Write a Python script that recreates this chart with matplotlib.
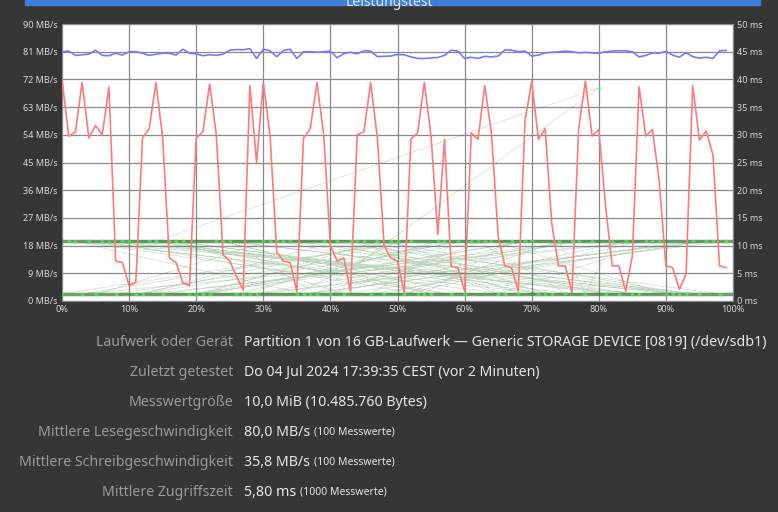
import matplotlib
matplotlib.use("Agg")
import matplotlib.pyplot as plt
from matplotlib.patches import Rectangle

plt.rcParams['font.family'] = ['Noto Sans', 'DejaVu Sans']

pct = list(range(100))
read_mbs = [81.0,81.2,79.8,80.0,80.2,81.5,79.8,79.7,80.5,79.9,81.0,81.0,80.5,79.8,80.2,80.5,80.5,79.9,81.8,80.5,80.3,79.7,80.0,79.8,80.2,81.5,81.7,81.6,82.0,78.8,81.8,81.3,79.4,81.4,81.8,78.8,81.0,81.0,80.8,81.0,81.2,79.0,80.4,80.8,80.3,81.3,81.2,79.4,79.5,79.6,
            80.1,80.0,79.3,78.8,78.8,79.0,79.1,79.8,81.5,81.2,78.8,79.2,78.8,79.5,79.3,79.6,81.6,81.5,81.0,81.2,79.6,79.9,80.6,80.8,80.9,81.2,81.0,80.6,80.8,80.6,80.5,81.0,81.2,81.3,81.3,81.0,79.3,79.8,80.6,80.5,81.1,79.9,79.2,80.7,79.4,78.9,79.2,78.8,81.3,81.4]
write_mbs = [72,53.5,55,71,53,57,54,69.5,13,12.5,5,6,53,56,71,53,14,12.5,6,5,
             53,55,70.5,54,15,13,8,3.5,70,45,71,54,16,13,12.5,3,53,56,71,54,
             18,13,14,3,54,55,71,53,18,14,13,2.7,52.7,54.6,71,53.6,21.6,52.5,11.4,10.8,
             3.2,54.6,52.5,70,54.6,21,11.4,10.8,3.2,58.4,71.4,52.5,56,25,11.4,11.4,2.7,56,71.4,53.6,
             55.7,31,11.4,11.4,3.2,14.6,69.6,53.6,55.7,39,11.4,10.8,3.8,8.7,70,52.3,55.2,47.6,11.4,10.8]
access_pct = [0,52,3,88,12,41,7,95,23,60,15,77,31,5,68,45,9,83,27,56,
              18,99,36,2,72,49,11,64,90,25,38,80,14,58,1,93,47,21,70,33,
              85,6,53,29,97,42,17,75,62,10,86,35,50,20,79,4,66,44,92,26,
              57,13,73,39,98,8,61,30,84,48,19,69,37,94,24,55,16,81,43,65,
              89,32,71,22,59,46,96,28,76,40,63,34,91,54,67,87,51,74,78,82]
access_ms = [1.3,10.8,1.3,10.9,1.2,10.8,10.7,1.3,10.9,1.3,1.3,10.8,10.8,1.2,1.4,10.9,10.8,1.3,1.3,10.8,
             10.9,10.8,1.3,10.7,1.3,10.8,1.2,10.9,1.3,10.8,1.3,38.5,10.8,1.2,10.9,1.3,10.8,1.3,10.9,10.8,
             1.3,10.8,1.3,1.2,10.9,1.3,10.8,1.4,10.8,10.9,1.3,1.3,10.8,1.3,10.9,10.8,1.3,10.8,1.2,1.3,
             10.8,10.9,1.3,10.8,1.3,1.3,10.9,10.8,10.8,1.3,1.2,10.8,1.3,10.9,10.8,1.3,10.8,1.3,10.9,1.3,
             10.8,10.9,1.3,1.3,10.8,1.3,10.9,1.2,10.8,1.3,10.8,10.9,1.3,1.3,10.8,10.9,1.3,10.8,1.3,10.8]

mb_ticks = list(range(0, 91, 9))
ms_ticks = list(range(0, 51, 5))
x_ticks = list(range(0, 101, 10))

labels = ["Laufwerk oder Gerät", "Zuletzt getestet", "Messwertgröße",
          "Mittlere Lesegeschwindigkeit", "Mittlere Schreibgeschwindigkeit", "Mittlere Zugriffszeit"]
values = ["Partition 1 von 16 GB-Laufwerk — Generic STORAGE DEVICE [0819] (/dev/sdb1)",
          "Do 04 Jul 2024 17:39:35 CEST (vor 2 Minuten)",
          "10,0 MiB (10.485.760 Bytes)", "80,0 MB/s", "35,8 MB/s", "5,80 ms"]
extras = ["", "", "", "(100 Messwerte)", "(100 Messwerte)", "(1000 Messwerte)"]

BG = "#363636"
fig = plt.figure(figsize=(7.78, 5.12), dpi=100, facecolor=BG)
fig.patches.append(Rectangle((25/778, 1-5/512), 735/778, 5/512, transform=fig.transFigure,
                             color="#3f7ed8", zorder=0))
fig.text(0.5, 1 - 2/512, "Leistungstest", ha="center", va="center", color="#e8e8e8", fontsize=10)

ax = fig.add_axes([62/778, 1-301/512, 671/778, 277/512])
ax.set_facecolor("white")
ax.set_xlim(0, 100)
ax.set_ylim(0, 90)
ax.set_xticks(x_ticks)
ax.set_xticklabels([f"{t}%" for t in x_ticks])
ax.set_yticks(mb_ticks)
ax.set_yticklabels([f"{t} MB/s" for t in mb_ticks])
ax.grid(True, color="#8a8a8a", linewidth=0.9)
ax.set_axisbelow(True)
for s in ax.spines.values():
    s.set_color("#8a8a8a")
ax.tick_params(colors="#d8d8d8", labelsize=6.5, length=0, pad=3)

ax2 = ax.twinx()
ax2.set_ylim(0, 50)
ax2.set_yticks(ms_ticks)
ax2.set_yticklabels([f"{t} ms" for t in ms_ticks])
ax2.tick_params(colors="#d8d8d8", labelsize=6.5, length=0, pad=3)
for s in ax2.spines.values():
    s.set_visible(False)

ax2.plot(access_pct, access_ms, color="#2e7d2e", linewidth=0.4, alpha=0.3, zorder=1)
for lvl in (10.8, 1.3):
    ax2.axhline(lvl, color="#2e7d2e", linewidth=2.5, alpha=0.7, zorder=1)
ax2.scatter(access_pct, access_ms, s=8, color="#66ee66", alpha=0.6, linewidths=0, zorder=2)
ax2.plot(pct, [w / 1.8 for w in write_mbs], color="#ff7a7a", linewidth=1.2, zorder=3)
ax2.plot(pct, [r / 1.8 for r in read_mbs], color="#7878ff", linewidth=1.2, zorder=3)

ys = [342, 372, 402, 432, 462, 492]
for y, lab, val, ex in zip(ys, labels, values, extras):
    yf = 1 - y / 512
    fig.text(233/778, yf, lab, ha="right", va="center", color="#9a9a9a", fontsize=10.2)
    t = fig.text(244/778, yf, val, ha="left", va="center", color="#e6e6e6", fontsize=10.2)
    if ex:
        fig.canvas.draw()
        bb = t.get_window_extent()
        fig.text((bb.x1 + 4)/778, yf, ex, ha="left", va="center", color="#e6e6e6", fontsize=7.5)

fig.savefig("out.png", dpi=100, facecolor=BG)
